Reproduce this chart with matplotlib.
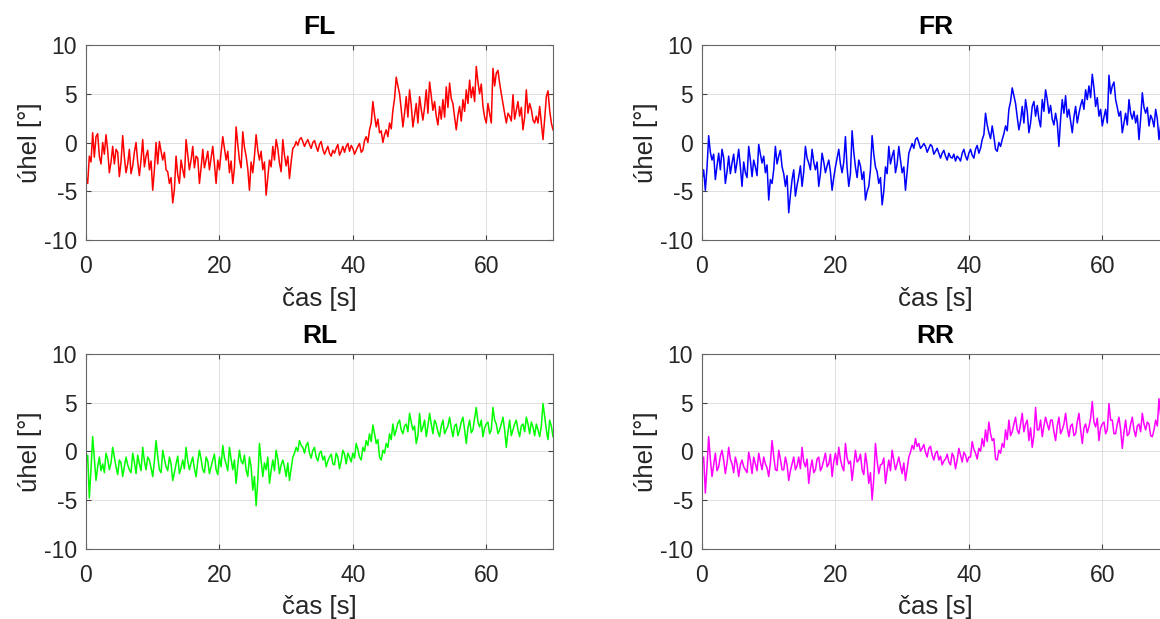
import numpy as np
import matplotlib
matplotlib.use("Agg")
import matplotlib.pyplot as plt

plt.rcParams['font.family'] = ['Liberation Sans', 'DejaVu Sans']
plt.rcParams['axes.unicode_minus'] = False

# samples: every 0.5 s (values at 0, 0.5, ... 70) plus the readings in between (0.25, 0.75, ...)
t_start, t_stop, t_step = 0.0, 70.0, 0.5

titles = ["FL", "FR", "RL", "RR"]
colors = ["#ff0000", "#0000ff", "#00ff00", "#ff00ff"]

fl = [-3.5, -1.4, 1.0, 0.6, -1.4, 0.0, 0.8, -3.1, -0.4, -0.7,
      -3.5, 0.7, -3.1, -0.7, -2.4, 0.0, -3.4, 0.3, -1.4, -2.8,
      -4.9, 0.0, 0.1, -1.8, -2.8, -4.2, -6.2, -1.4, -4.2, -2.8,
      0.3, -2.8, -0.4, -1.4, -4.2, -0.7, -1.8, -2.8, -0.4, -4.2,
      -2.8, 0.6, -1.8, -3.1, -4.2, 1.6, -1.8, 1.1, -1.4, -4.9,
      -3.1, 0.8, -1.8, -2.8, -5.4, -1.8, -0.4, 0.3, -2.1, 0.3,
      -2.4, -3.7, -0.6, 0.1, 0.3, 0.1, 0.0, -0.2, 0.0, -0.4,
      -0.2, -0.7, -0.8, -1.1, -0.8, -0.6, -1.3, -0.4, -0.4, -0.9,
      -0.6, -0.8, -0.1, -0.8, 0.6, 1.3, 4.2, 1.6, 1.0, 0.0,
      1.3, 2.0, 3.3, 6.7, 5.0, 1.6, 4.7, 5.4, 1.6, 4.0,
      4.7, 2.3, 5.4, 6.2, 3.3, 2.7, 3.7, 4.4, 5.7, 6.1,
      4.0, 1.3, 3.7, 4.4, 5.4, 6.4, 5.7, 7.8, 5.0, 3.7,
      2.0, 3.0, 7.6, 7.1, 6.1, 4.0, 2.0, 2.7, 4.9, 3.3,
      2.7, 1.3, 5.4, 4.0, 2.3, 2.7, 3.7, 0.3, 4.7, 3.3,
      1.3]
fl_mid = [-4.2, -2.0, -1.5, 0.9, -2.2, -1.2, -0.8, -2.0, -2.2, -1.0,
          -2.0, -1.5, -2.2, -3.2, -1.0, -2.0, -1.8, -2.5, -0.8, -1.9,
          -2.8, -2.2, -0.9, -1.0, -3.0, -3.6, -4.8, -3.3, -1.8, -3.6,
          -1.2, -1.8, -2.6, -1.6, -2.6, -2.6, -0.9, -1.6, -2.2, -1.8,
          -1.0, -0.6, -0.9, -1.9, -2.6, -0.2, -2.6, -0.5, -2.7, -2.0,
          -1.4, -0.8, -0.9, -2.0, -3.6, -2.5, -1.8, -0.6, -3.0, -1.3,
          -1.4, -2.0, -0.4, -0.3, 0.5, -0.4, 0.3, -0.6, 0.2, -0.9,
          0.1, -1.2, -0.4, -1.4, -1.1, -0.2, -0.9, -1.0, -0.1, -0.3,
          -1.2, -0.4, -1.0, 0.2, 0.0, 2.0, 2.8, 2.4, 1.2, 0.8,
          0.6, 1.4, 4.5, 5.8, 3.4, 3.0, 2.6, 3.8, 2.8, 2.0,
          3.4, 3.6, 3.0, 4.8, 4.2, 1.8, 2.4, 2.6, 3.6, 4.5,
          2.6, 2.8, 2.2, 3.2, 4.0, 4.6, 4.2, 6.2, 6.0, 2.6,
          4.0, 2.0, 5.8, 7.4, 5.0, 3.0, 3.0, 2.2, 2.4, 4.2,
          3.6, 2.6, 3.0, 3.4, 2.0, 2.0, 2.0, 2.4, 5.3, 2.0]

fr = [-3.8, -4.9, 0.7, -1.8, -3.8, -1.1, -0.7, -4.2, -1.4, -2.1,
      -3.1, -0.7, -4.5, -3.1, -0.4, -3.5, -2.5, -0.2, -2.1, -3.1,
      -5.9, -4.2, -0.4, -1.4, -2.5, -4.5, -7.2, -3.8, -5.5, -3.5,
      -4.5, -0.4, -2.1, -0.7, -2.8, -4.5, -1.1, -3.1, -1.8, -4.9,
      -2.5, -0.7, -3.1, 0.6, -4.5, 1.2, -2.5, -1.8, -3.8, -5.9,
      -4.5, 0.7, -2.5, -4.2, -6.4, -2.5, -0.4, -1.4, -3.1, -0.4,
      -3.1, -4.9, -1.1, -0.1, 0.3, 0.0, -0.4, -0.4, -0.6, -0.4,
      -0.9, -1.1, -1.1, -1.4, -1.1, -1.6, -1.9, -1.6, -1.1, -1.4,
      -1.1, -1.3, -0.7, -1.1, 0.3, 3.0, 1.0, 1.7, -0.7, 0.0,
      0.3, 1.7, 3.4, 5.6, 4.0, 1.3, 3.7, 4.4, 1.0, 3.7,
      2.7, 2.4, 4.4, 5.4, 3.0, 2.4, 3.0, -0.4, 4.4, 4.8,
      3.4, 1.0, 3.7, 3.0, 4.4, 5.4, 5.8, 7.0, 3.7, 2.7,
      1.7, 3.4, 6.9, 5.8, 4.4, 2.7, 1.0, 3.0, 4.4, 2.4,
      2.0, 0.3, 5.1, 3.0, 1.7, 2.4, 3.4, 0.3, 3.0, 2.5,
      2.0]
fr_mid = [-2.8, -2.6, -1.0, -1.2, -2.4, -2.8, -1.6, -3.0, -3.2, -1.2,
          -2.0, -2.5, -2.0, -3.6, -1.8, -1.8, -3.4, -1.2, -1.4, -2.3,
          -3.8, -2.8, -2.2, -0.8, -3.2, -3.4, -5.4, -2.8, -4.4, -2.4,
          -3.0, -1.6, -2.8, -2.0, -2.0, -3.2, -2.0, -2.4, -3.0, -3.6,
          -1.6, -2.2, -2.0, -2.6, -3.2, -1.0, -3.6, -2.4, -3.0, -5.0,
          -2.8, -1.2, -3.0, -3.6, -5.0, -3.2, -2.2, -0.8, -2.2, -1.8,
          -2.5, -3.0, -0.6, -0.6, 0.5, -0.6, -0.1, -1.0, -0.2, -1.2,
          -0.6, -1.6, -0.8, -1.8, -1.5, -1.2, -1.4, -1.9, -0.7, -1.8,
          -0.7, -1.6, -0.3, -0.6, 0.8, 1.8, 0.4, 0.6, -0.9, -0.4,
          0.9, 1.2, 4.2, 4.8, 2.6, 2.2, 2.0, 3.2, 2.0, 4.2,
          3.8, 1.6, 3.2, 4.4, 3.8, 1.8, 2.0, 2.4, 3.0, 2.6,
          2.2, 2.6, 2.0, 3.8, 3.4, 4.4, 4.6, 5.6, 4.6, 3.4,
          2.6, 2.0, 5.0, 6.2, 3.6, 3.2, 2.0, 1.8, 3.0, 3.2,
          2.8, 2.4, 3.6, 3.6, 2.8, 1.6, 2.4, 1.8, 1.6, 3.0]

rl = [-1.3, -4.8, 1.5, -3.0, -0.6, -1.3, -0.2, -1.9, 0.4, -1.6,
      -0.9, -2.6, -0.6, -1.9, -0.2, -2.3, -1.3, 0.4, -1.9, -0.9,
      -2.6, 1.1, -1.9, 0.1, -1.6, -0.6, -3.0, -1.3, -2.3, -0.9,
      0.4, -1.9, -0.6, -2.6, 0.1, -1.9, -0.6, -2.3, -0.9, -1.9,
      -0.6, 0.6, -1.3, 0.4, -1.9, -3.3, 0.1, -1.3, -1.9, -0.6,
      -4.0, -5.6, 0.8, -2.6, -1.9, -3.3, -0.9, 0.1, -2.3, -0.9,
      -2.6, -3.0, -0.6, 0.4, 1.1, 0.4, 0.6, -0.2, 0.1, -0.6,
      -0.2, -0.9, -1.6, -0.6, -1.3, -0.2, -1.8, 0.1, -1.3, -0.6,
      -0.2, 0.8, -0.6, 0.4, 1.1, 1.8, 2.7, 0.8, -0.6, 0.1,
      0.8, 1.8, 2.8, 2.2, 3.2, 1.8, 2.8, 3.9, 2.2, 0.8,
      3.9, 2.5, 1.5, 3.9, 1.8, 2.8, 1.5, 3.2, 2.2, 3.5,
      1.5, 2.8, 2.2, 3.5, 0.8, 3.2, 2.2, 4.5, 2.5, 1.5,
      2.8, 1.8, 4.5, 2.8, 2.2, 3.5, 0.4, 3.2, 2.2, 3.2,
      1.5, 2.8, 3.5, 1.8, 2.5, 2.8, 1.5, 4.9, 2.2, 3.2,
      1.5]
rl_mid = [-0.4, -1.8, -0.8, -1.6, -2.0, -2.2, -0.8, -1.2, -0.6, -2.4,
          -1.2, -1.6, -1.4, -2.2, -1.1, -0.4, -2.0, -1.0, -0.6, -1.7,
          -1.0, -0.5, -2.2, -0.8, -2.0, -1.3, -2.2, -0.5, -1.7, -1.8,
          -1.0, -1.2, -1.8, -1.1, -0.8, -2.2, -1.0, -1.6, -0.3, -2.4,
          -1.6, -0.7, -2.0, -0.8, -0.9, -1.4, -1.0, -0.4, -2.6, -1.6,
          -2.6, -3.0, -1.0, -1.2, -0.6, -2.0, -2.0, -0.8, -1.4, -1.6,
          -1.2, -1.8, -0.2, 0.0, 0.6, -0.2, 0.9, -0.7, 0.4, -1.0,
          0.0, -0.5, -1.0, -0.3, -1.4, -0.6, -1.0, -0.3, -0.2, -1.1,
          -0.7, 0.2, -0.9, 0.0, 0.6, 1.0, 1.8, 1.2, -0.9, -0.2,
          0.4, 1.2, 1.6, 2.9, 2.2, 2.6, 2.0, 3.0, 2.6, 1.6,
          2.0, 3.2, 2.6, 2.8, 3.2, 2.0, 2.6, 1.8, 2.6, 2.4,
          2.6, 1.6, 3.0, 2.2, 2.4, 1.9, 3.4, 3.0, 3.2, 2.4,
          3.0, 2.2, 3.2, 1.8, 2.8, 2.2, 2.0, 1.6, 2.8, 2.2,
          2.6, 2.0, 2.8, 3.0, 1.6, 2.2, 2.6, 3.6, 1.2, 2.6]

rr = [-1.3, -4.3, 1.5, -2.6, -0.2, -1.6, 0.1, -2.3, 0.4, -1.3,
      -0.6, -2.6, -0.9, -1.9, -0.1, -2.3, -1.3, -0.2, -1.9, -1.3,
      -2.6, 1.1, -1.9, 0.1, -1.9, -0.6, -3.0, -1.3, -1.9, -0.6,
      0.4, -1.6, -3.3, -0.9, -1.9, -0.6, -1.6, -0.2, -1.3, -2.6,
      -0.2, 0.4, -1.6, 0.8, -1.3, -3.0, 0.1, -0.9, -1.9, -0.2,
      -3.3, -5.0, 0.8, -2.3, -1.3, -3.3, -0.9, 0.1, -1.9, -0.6,
      -2.3, -3.0, -0.6, 0.6, 1.3, 0.8, 0.3, -0.1, 0.3, -0.4,
      -0.2, -0.9, -1.4, -0.8, -1.1, -0.2, -1.8, 0.3, -1.1, -0.4,
      -0.6, 1.0, -0.2, 0.3, 1.3, 2.2, 3.0, 1.1, -0.8, 0.1,
      0.8, 2.2, 3.2, 2.0, 3.5, 1.8, 3.9, 2.8, 1.1, 0.4,
      4.5, 2.2, 1.5, 3.5, 2.2, 3.2, 1.1, 3.5, 2.2, 3.9,
      1.5, 2.8, 1.8, 3.9, 0.8, 2.8, 2.5, 5.1, 2.5, 1.1,
      2.8, 1.8, 4.9, 3.2, 1.8, 3.5, 0.3, 3.2, 1.8, 3.5,
      1.5, 2.8, 3.9, 2.2, 2.8, 1.5, 3.2, 5.4, 2.5, 3.0,
      2.0]
rr_mid = [-0.6, -1.6, -0.8, -1.4, -2.0, -0.5, -0.9, -1.2, -0.8, -2.2,
          -1.3, -1.4, -1.6, -2.2, -1.0, -0.6, -2.0, -1.1, -0.6, -1.7,
          -1.2, -0.5, -2.0, -0.8, -1.9, -1.4, -2.0, -0.6, -1.5, -1.8,
          -1.1, -0.8, -1.8, -2.2, -0.8, -2.0, -0.9, -1.6, -0.3, -1.1,
          -1.4, -0.8, -2.0, -0.7, -1.0, -1.4, -1.1, -0.3, -2.4, -1.4,
          -2.2, -2.8, -1.0, -1.4, -0.7, -2.0, -2.0, -0.9, -1.3, -1.5,
          -1.2, -1.8, -0.1, 0.2, 0.5, 0.0, 0.7, -0.6, 0.5, -0.9,
          0.0, -0.5, -1.0, -0.3, -1.4, -0.6, -0.9, -0.4, -0.1, -1.1,
          -0.6, 0.2, -0.8, 0.0, 0.5, 1.0, 1.8, 1.3, -0.9, -0.2,
          0.4, 1.2, 1.6, 2.8, 2.2, 2.8, 2.0, 3.2, 2.4, 1.6,
          2.2, 3.2, 2.6, 2.8, 3.2, 2.0, 2.6, 1.8, 2.8, 2.4,
          2.6, 1.6, 3.0, 2.2, 2.4, 1.9, 3.4, 3.0, 3.4, 2.4,
          3.0, 2.2, 3.2, 1.8, 2.8, 2.2, 2.0, 1.6, 2.8, 2.2,
          2.6, 2.0, 2.8, 3.0, 1.6, 2.2, 2.6, 3.6, 1.6, 2.6]

xticks = [0, 20, 40, 60]
yticks = [-10, -5, 0, 5, 10]
xlabel = "čas [s]"
ylabel = "úhel [°]"

t_main = np.arange(t_start, t_stop + t_step / 2, t_step)
t_mid = t_main[:-1] + t_step / 2


def merge(main, mid):
    tt = np.concatenate([t_main, t_mid])
    yy = np.concatenate([np.asarray(main, float), np.asarray(mid, float)])
    order = np.argsort(tt, kind="stable")
    return tt[order], yy[order]


series = [merge(fl, fl_mid), merge(fr, fr_mid), merge(rl, rl_mid), merge(rr, rr_mid)]

W, H = 1160, 619
fig = plt.figure(figsize=(W / 100, H / 100), dpi=100)

# axes rectangles in pixels: (left, top, width, height)
rects = [(86, 45, 467, 195), (702, 45, 467, 195),
         (86, 354, 467, 194.5), (702, 354, 467, 194.5)]

txt = "#262626"
for (l, tp, w, h), name, col, (tt, yy) in zip(rects, titles, colors, series):
    ax = fig.add_axes([l / W, (H - tp - h) / H, w / W, h / H])
    ax.plot(tt, yy, color=col, linewidth=1.1)
    ax.set_xlim(0, 70)
    ax.set_ylim(-10, 10)
    ax.set_xticks(xticks)
    ax.set_yticks(yticks)
    ax.grid(True, color="#dedede", linewidth=0.7)
    ax.set_axisbelow(True)
    for s in ax.spines.values():
        s.set_color("#666666")
        s.set_linewidth(0.8)
    ax.tick_params(direction="in", length=3.5, width=0.8, color="#444444",
                   labelsize=16.5, labelcolor=txt, top=True, right=True)
    ax.tick_params(axis="x", pad=11)
    ax.tick_params(axis="y", pad=6.5)
    ax.set_title(name, fontsize=19, fontweight="bold", color="black", pad=8)
    ax.set_xlabel(xlabel, fontsize=18.5, color=txt, labelpad=6)
    ax.set_ylabel(ylabel, fontsize=18.5, color=txt, labelpad=1)

fig.savefig("out.png", dpi=100)
